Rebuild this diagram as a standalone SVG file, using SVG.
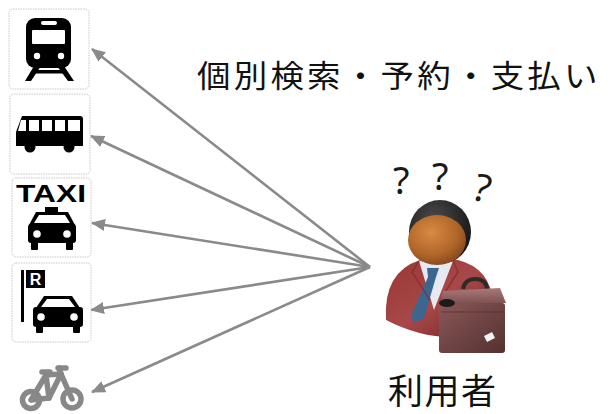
<svg xmlns="http://www.w3.org/2000/svg" width="611" height="414" viewBox="0 0 611 414">
  <style>
    .box { fill: #ffffff; stroke: #c8c8c8; stroke-width: 1; stroke-dasharray: 1.5 1; }
    .pict { fill: #000000; }
    .hole { fill: #ffffff; }
    .link { stroke: #8a8a8a; stroke-width: 2.6; fill: none; marker-end: url(#arrow); }
    .jp { font-family: "Noto Sans CJK JP", "Noto Sans", sans-serif; fill: #111111; }
    .q { font-family: "Noto Sans", "DejaVu Sans", sans-serif; font-size: 38px; fill: #1a1a1a; }
    .bike { stroke: #888888; stroke-width: 5.5; fill: none; stroke-linecap: round; stroke-linejoin: round; }
  </style>
  <defs>
    <marker id="arrow" markerUnits="userSpaceOnUse" markerWidth="14" markerHeight="12" refX="13" refY="6" orient="auto">
      <path d="M0,0 L14,6 L0,12 Z" fill="#8a8a8a"/>
    </marker>
    <linearGradient id="suit" x1="0" y1="0" x2="1" y2="1">
      <stop offset="0" stop-color="#9a3535"/>
      <stop offset="0.5" stop-color="#a84848"/>
      <stop offset="1" stop-color="#6e2222"/>
    </linearGradient>
    <radialGradient id="face" cx="0.4" cy="0.35" r="0.75">
      <stop offset="0" stop-color="#d88a42"/>
      <stop offset="0.6" stop-color="#b0662a"/>
      <stop offset="1" stop-color="#7a3f18"/>
    </radialGradient>
    <radialGradient id="hair" cx="0.4" cy="0.3" r="0.7">
      <stop offset="0" stop-color="#4a4a4a"/>
      <stop offset="1" stop-color="#151515"/>
    </radialGradient>
    <linearGradient id="case" x1="0" y1="0" x2="1" y2="1">
      <stop offset="0" stop-color="#8a5858"/>
      <stop offset="1" stop-color="#553030"/>
    </linearGradient>
    <linearGradient id="lid" x1="0" y1="0" x2="0" y2="1">
      <stop offset="0" stop-color="#a87a7a"/>
      <stop offset="1" stop-color="#7a4c4c"/>
    </linearGradient>
  </defs>

  <!-- connectors: user to each mode of transport -->
  <g id="connectors">
    <line class="link" x1="370" y1="267" x2="92" y2="49"/>
    <line class="link" x1="370" y1="267" x2="91" y2="136"/>
    <line class="link" x1="370" y1="267" x2="92" y2="223"/>
    <line class="link" x1="370" y1="267" x2="91" y2="310"/>
    <line class="link" x1="370" y1="267" x2="92" y2="392"/>
  </g>

  <!-- train -->
  <g id="train">
    <rect class="box" x="9" y="9" width="80" height="80" rx="4"/>
    <rect class="pict" x="26" y="18" width="45" height="50" rx="9"/>
    <rect class="hole" x="32" y="30" width="33" height="14" rx="1"/>
    <rect class="hole" x="41" y="21" width="16" height="4" rx="2"/>
    <circle class="hole" cx="37" cy="56" r="3.2"/>
    <circle class="hole" cx="61" cy="56" r="3.2"/>
    <polygon class="pict" points="34,66 41,66 31,81 25,81"/>
    <polygon class="pict" points="57,66 64,66 74,81 68,81"/>
    <rect class="pict" x="33" y="70" width="32" height="3.5"/>
  </g>

  <!-- bus -->
  <g id="bus">
    <rect class="box" x="10" y="94" width="80" height="80" rx="4"/>
    <path class="pict" d="M22,116 L80,116 Q83,116 83,119 L83,146 L16,146 L16,132 Z"/>
    <polygon class="hole" points="21,120 26,120 26,131 18,131"/>
    <rect class="hole" x="29" y="120" width="10" height="11"/>
    <rect class="hole" x="42" y="120" width="10" height="11"/>
    <rect class="hole" x="55" y="120" width="10" height="11"/>
    <rect class="hole" x="68" y="120" width="12" height="11"/>
    <circle class="pict" cx="30" cy="147" r="5.5"/>
    <circle class="pict" cx="69" cy="147" r="5.5"/>
  </g>

  <!-- taxi -->
  <g id="taxi">
    <rect class="box" x="12" y="178" width="79" height="79" rx="4"/>
    <text x="16" y="202" font-family="Liberation Sans, Arial, sans-serif" font-weight="bold" font-size="23" textLength="70" lengthAdjust="spacingAndGlyphs" fill="#000">TAXI</text>
    <rect class="pict" x="45" y="207" width="13" height="6"/>
    <polygon class="pict" points="36,212 68,212 75,225 29,225"/>
    <polygon class="hole" points="39,215 65,215 70,223 34,223"/>
    <rect class="pict" x="28" y="224" width="48" height="19" rx="3"/>
    <rect class="pict" x="31" y="240" width="7" height="10" rx="1"/>
    <rect class="pict" x="66" y="240" width="7" height="10" rx="1"/>
    <circle class="hole" cx="37" cy="234" r="3.8"/>
    <circle class="hole" cx="67" cy="234" r="3.8"/>
  </g>

  <!-- rental car -->
  <g id="rental">
    <rect class="box" x="12" y="263" width="79" height="79" rx="4"/>
    <rect class="pict" x="21" y="270" width="3" height="52"/>
    <rect class="pict" x="26" y="270" width="19" height="18"/>
    <text x="35.5" y="285" text-anchor="middle" font-family="Liberation Sans, Arial, sans-serif" font-weight="bold" font-size="16" fill="#fff">R</text>
    <polygon class="pict" points="44,296 72,296 80,308 36,308"/>
    <polygon class="hole" points="47,299 69,299 75,307 41,307"/>
    <rect class="pict" x="33" y="307" width="50" height="20" rx="3"/>
    <rect class="pict" x="36" y="324" width="7" height="9" rx="1"/>
    <rect class="pict" x="73" y="324" width="7" height="9" rx="1"/>
    <circle class="hole" cx="41" cy="317" r="3.8"/>
    <circle class="hole" cx="74" cy="317" r="3.8"/>
  </g>

  <!-- bicycle -->
  <g id="bicycle">
    <circle class="bike" cx="31" cy="400" r="8.5"/>
    <circle class="bike" cx="72" cy="399" r="9"/>
    <polyline class="bike" points="31,400 49,398 46,375 31,400"/>
    <polyline class="bike" points="49,398 61,374 72,399"/>
    <line class="bike" x1="46" y1="375" x2="61" y2="374"/>
    <line class="bike" x1="42" y1="372" x2="50" y2="372"/>
    <line class="bike" x1="58" y1="368" x2="66" y2="368"/>
    <line class="bike" x1="59" y1="368" x2="61" y2="374"/>
  </g>

  <!-- heading -->
  <g id="heading">
    <text class="jp" transform="translate(197,87) scale(1.08,1)" font-size="31" letter-spacing="3">個別検索・予約・支払い</text>
  </g>

  <!-- user -->
  <g id="user">
    <text class="q" x="393" y="194">?</text>
    <text class="q" x="432" y="190">?</text>
    <text class="q" transform="translate(471,199) rotate(15)">?</text>
    <path d="M386,320 Q383,272 420,260 L458,260 Q490,268 493,302 L493,330 Q440,348 386,320 Z" fill="url(#suit)"/>
    <polygon points="419,261 453,261 434,310" fill="#e6eaf0"/>
    <polygon points="427,268 439,268 436,277 424,318 414,323 411,316 428,277" fill="#3a6690"/>
    <path d="M419,261 L412,272 L430,300" fill="none" stroke="#7a2828" stroke-width="1.5" opacity="0.6"/>
    <path d="M453,261 L458,272 L440,300" fill="none" stroke="#7a2828" stroke-width="1.5" opacity="0.6"/>
    <ellipse cx="440" cy="232" rx="31" ry="32" fill="url(#hair)"/>
    <ellipse cx="437" cy="240" rx="29" ry="25" fill="url(#face)"/>
    <path d="M463,289 Q465,279 475,279 Q486,279 487,289" fill="none" stroke="#2e2a2a" stroke-width="4"/>
    <polygon points="443,291 500,288 506,303 439,305" fill="url(#lid)"/>
    <rect x="439" y="303" width="66" height="50" rx="3" fill="url(#case)"/>
    <ellipse cx="447" cy="303" rx="8" ry="4" fill="#1e1a1a"/>
    <path d="M441,312 L503,312" stroke="#4a2626" stroke-width="1" opacity="0.6"/>
    <polygon points="484,336 492,332 495,338 487,342" fill="#f2f2f2"/>
  </g>

  <!-- caption -->
  <g id="caption">
    <text class="jp" x="388" y="404" font-size="35" letter-spacing="1.5">利用者</text>
  </g>
</svg>
